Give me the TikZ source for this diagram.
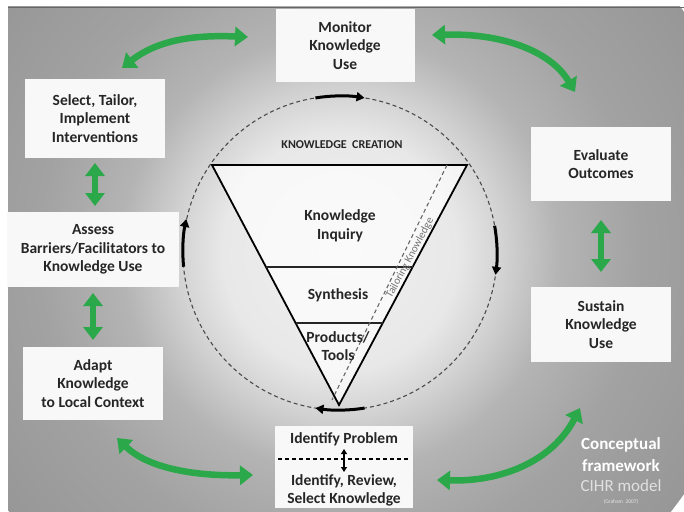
\documentclass[tikz,border=0pt]{standalone}
\usepackage{fontspec}
\setmainfont{Carlito}
\usetikzlibrary{arrows.meta,calc}
\definecolor{gA}{HTML}{F0F0F0}
\definecolor{gB}{HTML}{E8E8E8}
\definecolor{gC}{HTML}{D4D4D4}
\definecolor{gD}{HTML}{B4B4B4}
\definecolor{gE}{HTML}{A2A2A2}
\definecolor{gF}{HTML}{979797}
\definecolor{boxfill}{HTML}{F8F8F8}
\definecolor{kgreen}{HTML}{2BA84A}
\definecolor{txt}{HTML}{262626}
\pgfdeclareradialshading{bgshade}{\pgfpoint{0bp}{0bp}}{color(0bp)=(gA); color(7bp)=(gB); color(9.5bp)=(gC); color(13bp)=(gD); color(18bp)=(gE); color(25bp)=(gF); color(50bp)=(gF)}
\begin{document}
\begin{tikzpicture}[x=1pt,y=1pt,
  box/.style={fill=boxfill, align=center, inner sep=0pt, outer sep=0pt, text=txt,
    font=\bfseries\fontsize{15.5}{18.5}\selectfont},
  lbl/.style={align=center, inner sep=0pt, text=txt, font=\bfseries\fontsize{15.5}{18.5}\selectfont},
  garrow/.style={draw=kgreen, line width=6.5pt, {Triangle[width=19pt,length=13pt]}-{Triangle[width=19pt,length=13pt]}},
  barrow/.style={draw=black, line width=3pt, -{Triangle[width=9pt,length=8pt]}},
  tri/.style={draw=black, line width=1.8pt, fill=white, fill opacity=0.7, line join=miter},
  tline/.style={draw=black!85, line width=1.3pt}
]
\useasboundingbox (0,0) rectangle (684,-511);
\fill[white] (0,0) rectangle (684,-511);
\begin{scope}
  \clip (8,-7) rectangle (684,-511);
  \shade[shading=bgshade] (340,-253) circle (420);
\end{scope}
\draw[line width=1pt, black!60] (8,-7.5) -- (684,-7.5);

% dashed cycle
\node[circle, draw=black!70, line width=1.1pt, dash pattern=on 4pt off 3pt, minimum size=314pt, inner sep=0pt, outer sep=0pt] (cyc) at (340,-253) {};

% triangle
\coordinate (tl) at (212,-165);
\coordinate (tr) at (467,-165);
\coordinate (tb) at (339,-405);
\draw[tri] (tl) -- (tr) -- (tb) -- cycle;
\draw[tline] ($(tl)!0.425!(tb)$) -- ($(tr)!0.425!(tb)$);
\draw[tline] ($(tl)!0.658!(tb)$) -- ($(tr)!0.658!(tb)$);
\coordinate (ta) at (447,-165);
\coordinate (tz) at (332,-400);
\draw[black!60, line width=1.1pt, dash pattern=on 4pt off 3pt] (ta) -- (tz);
\node[rotate=62, inner sep=0pt, text=black!55, font=\fontsize{11}{13}\selectfont] (tk) at (410,-258) {Tailoring Knowledge};

\node[inner sep=0pt, text=txt, font=\bfseries\fontsize{12}{14}\selectfont] (kc) at (342,-145) {KNOWLEDGE\ \ CREATION};
\node[lbl] (ki) at (340,-226) {Knowledge\\Inquiry};
\node[lbl] (sy) at (338,-295) {Synthesis};
\node[lbl] (pt) at (338,-346) {Products/\\Tools};

% black cycle arrows
\draw[barrow] (cyc.99) arc[start angle=99, end angle=81, radius=157pt];
\draw[barrow] (cyc.10) arc[start angle=10, end angle=-8, radius=157pt];
\draw[barrow] (cyc.-81) arc[start angle=-81, end angle=-99, radius=157pt];
\draw[barrow] (cyc.185.5) arc[start angle=185.5, end angle=168, radius=157pt];

% boxes
\node[box, minimum width=139pt, minimum height=73pt] (mon) at (345,-45.5) {Monitor\\Knowledge\\Use};
\node[box, minimum width=140pt, minimum height=79pt] (sel) at (95,-118.5) {Select, Tailor,\\Implement\\Interventions};
\node[box, minimum width=172pt, minimum height=75pt] (ass) at (93,-249.5) {Assess\\Barriers/Facilitators to\\Knowledge Use};
\node[box, minimum width=140pt, minimum height=73pt] (ada) at (93,-383.5) {Adapt\\Knowledge\\to Local Context};
\node[box, minimum width=140pt, minimum height=74pt] (eva) at (601,-164) {Evaluate\\Outcomes};
\node[box, minimum width=140pt, minimum height=75pt] (sus) at (601,-324.5) {Sustain\\Knowledge\\Use};
\node[box, minimum width=138pt, minimum height=82pt] (idp) at (344,-467) {};
\node[lbl] (idp1) at (344,-439) {Identify Problem};
\node[lbl] (idp2) at (344,-490.5) {Identify, Review,\\Select Knowledge};
\draw[black, line width=1.2pt, dash pattern=on 4pt off 3pt] ([yshift=8pt,xshift=3pt]idp.west) -- ([yshift=8pt,xshift=-5pt]idp.east);
\draw[black, line width=1.8pt, {Triangle[width=6pt,length=5pt]}-{Triangle[width=6pt,length=5pt]}] ([yshift=-10pt]idp1.center) -- ([yshift=18.5pt]idp2.center);

% green arrows
\draw[garrow] ([yshift=-5pt]sel.south -| 95,0) -- ([yshift=6pt]ass.north -| 95,0);
\draw[garrow] ([yshift=-6pt]ass.south) -- ([yshift=7pt]ada.north);
\draw[garrow] ([yshift=-19pt]eva.south) -- ([yshift=15pt]sus.north);

\coordinate (g1a) at (122,-68);
\coordinate (g1b) at (248,-37);
\coordinate (g2a) at (432,-35);
\coordinate (g2b) at (575,-92);
\coordinate (g3a) at (117,-438);
\coordinate (g3b) at (253,-475);
\coordinate (g4a) at (437,-480);
\coordinate (g4b) at (580,-408);
\draw[garrow] (g1a) .. controls (160,-38) and (200,-35) .. (g1b);
\draw[garrow] (g2a) .. controls (500,-33) and (550,-50) .. (g2b);
\draw[garrow] (g3a) .. controls (150,-470) and (200,-476) .. (g3b);
\draw[garrow] (g4a) .. controls (500,-482) and (552,-462) .. (g4b);

% caption
\node[inner sep=0pt, text=white, font=\bfseries\fontsize{17}{20}\selectfont] (cf1) at (621,-445) {Conceptual};
\node[inner sep=0pt, text=white, font=\bfseries\fontsize{17}{20}\selectfont] (cf2) at (621,-466) {framework};
\node[inner sep=0pt, text=white!88!black, font=\fontsize{17}{20}\selectfont] (cf3) at (621,-486) {CIHR model};
\node[inner sep=0pt, text=white!90!black, font=\fontsize{5.5}{7}\selectfont] (cf4) at (621,-502) {(Graham\ \ 2007)};
\end{tikzpicture}
\end{document}
